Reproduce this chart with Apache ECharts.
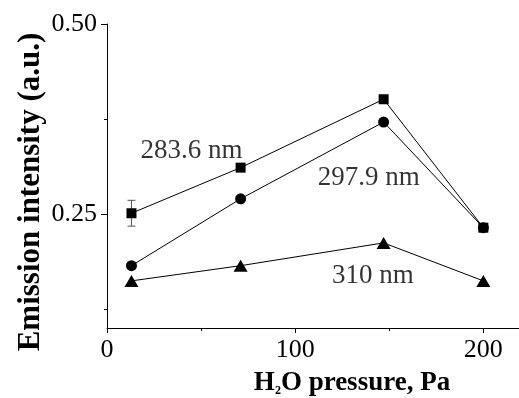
<!DOCTYPE html>
<html>
<head>
<meta charset="utf-8">
<script src="https://cdn.jsdelivr.net/npm/echarts@6/dist/echarts.min.js"></script>
<style>
  html, body { margin: 0; padding: 0; background: #fff; }
  #chart { width: 519px; height: 398px; }
</style>
</head>
<body>
<div id="chart"></div>
<script>
// emission intensity vs H2O pressure, three lines
const pressure = [13, 71, 147, 200];
const i2836 = [0.251, 0.311, 0.401, 0.232];
const i2979 = [0.182, 0.270, 0.371, 0.232];
const i310 = [0.162, 0.182, 0.212, 0.162];

// error bar on the first 283.6 nm point: [x, value, ±err]
const errBars = [[13, 0.251, 0.017]];

// line labels, placed in data coordinates
const labelText = ['283.6 nm', '297.9 nm', '310 nm'];
const labelX = [44.9, 139.1, 141.3];
const labelY = [0.333, 0.297, 0.168];

const xMajor = [0, 100, 200];
const xMinor = [50, 150];
const yMajor = [0.25, 0.5];
const yMinor = [0.125, 0.375];

const FONT = '"Liberation Serif", "Times New Roman", serif';
const INK = '#000';

const chart = echarts.init(document.getElementById('chart'), null, { renderer: 'canvas' });

const pairs = ys => pressure.map((x, i) => [x, ys[i]]);

function lineSeries(name, ys, symbol, size) {
  return {
    name, type: 'line', data: pairs(ys),
    symbol, symbolSize: size, showSymbol: true,
    lineStyle: { color: INK, width: 1 },
    itemStyle: { color: INK },
    z: 3,
  };
}

const baseX = {
  type: 'value', min: 0, max: 220, position: 'bottom',
  axisLine: { show: true, lineStyle: { color: INK, width: 1 } },
  splitLine: { show: false },
};
const baseY = {
  type: 'value', min: 0.1, max: 0.5, position: 'left',
  axisLine: { show: true, lineStyle: { color: INK, width: 1 } },
  splitLine: { show: false },
};

chart.setOption({
  animation: false,
  backgroundColor: '#fff',
  grid: { left: 107, top: 24, width: 414, height: 304, outerBoundsMode: 'none', containLabel: false },
  xAxis: [
    {
      ...baseX,
      axisTick: { show: true, customValues: xMajor, length: 5, lineStyle: { color: INK } },
      axisLabel: { customValues: xMajor, margin: 9, color: INK, fontSize: 26, fontFamily: FONT, hideOverlap: false },
    },
    {
      // minor ticks only
      ...baseX,
      axisLine: { show: false },
      axisTick: { show: true, customValues: xMinor, length: 3, lineStyle: { color: INK } },
      axisLabel: { show: false },
    },
  ],
  yAxis: [
    {
      ...baseY,
      axisTick: { show: true, customValues: yMajor, length: 6, lineStyle: { color: INK } },
      axisLabel: {
        customValues: yMajor, margin: 10, color: INK, fontSize: 26, fontFamily: FONT,
        align: 'right', hideOverlap: false,
        formatter: v => v.toFixed(2),
      },
    },
    {
      ...baseY,
      axisLine: { show: false },
      axisTick: { show: true, customValues: yMinor, length: 3, lineStyle: { color: INK } },
      axisLabel: { show: false },
    },
  ],
  graphic: [
    {
      type: 'text', x: 31, y: 192, rotation: Math.PI / 2, silent: true,
      style: {
        text: 'Emission intensity (a.u.)', fill: INK,
        font: `bold 31px ${FONT}`, align: 'center', verticalAlign: 'middle',
      },
    },
    {
      type: 'text', x: 352, y: 383, silent: true,
      style: {
        text: '{m|H}{s|2}{m|O pressure, Pa}', align: 'center', verticalAlign: 'middle',
        rich: {
          m: { fill: INK, font: `bold 27px ${FONT}`, lineHeight: 27, verticalAlign: 'bottom' },
          s: { fill: INK, font: `bold 12px ${FONT}`, lineHeight: 12, verticalAlign: 'bottom' },
        },
      },
    },
  ],
  series: [
    lineSeries('283.6 nm', i2836, 'rect', 10),
    lineSeries('297.9 nm', i2979, 'circle', 11),
    lineSeries('310 nm', i310, 'triangle', [14, 12]),
    {
      type: 'custom', name: 'err', data: errBars, z: 2, silent: true,
      renderItem(params, api) {
        const x = api.value(0), v = api.value(1), e = api.value(2);
        const top = api.coord([x, v + e]);
        const bot = api.coord([x, v - e]);
        const w = 4;
        const st = { stroke: '#555', lineWidth: 1 };
        return {
          type: 'group',
          children: [
            { type: 'line', shape: { x1: top[0], y1: top[1], x2: bot[0], y2: bot[1] }, style: st },
            { type: 'line', shape: { x1: top[0] - w, y1: top[1], x2: top[0] + w, y2: top[1] }, style: st },
            { type: 'line', shape: { x1: bot[0] - w, y1: bot[1], x2: bot[0] + w, y2: bot[1] }, style: st },
          ],
        };
      },
    },
    {
      type: 'scatter', name: 'labels', silent: true, symbolSize: 0,
      data: labelText.map((t, i) => ({ name: t, value: [labelX[i], labelY[i]] })),
      label: {
        show: true, position: 'inside', formatter: p => p.name,
        color: INK, fontSize: 27, fontFamily: FONT, textBorderWidth: 0,
      },
    },
  ],
});
</script>
</body>
</html>
